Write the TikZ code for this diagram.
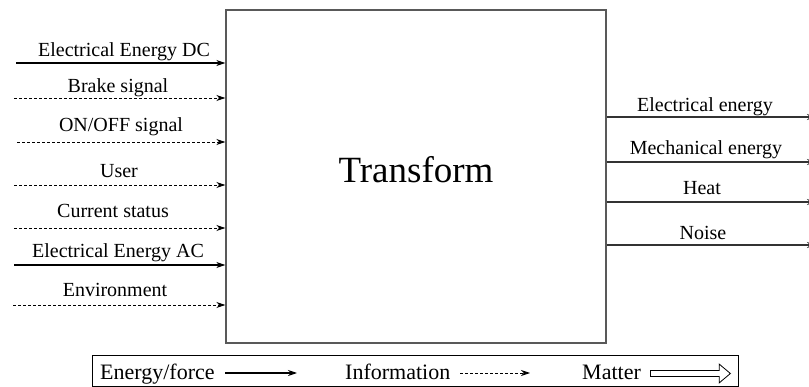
\documentclass[tikz,border=0pt]{standalone}
\usepackage{fontspec}
\setmainfont{Liberation Serif}
\usetikzlibrary{arrows.meta,shapes.arrows}
\tikzset{
  lbl/.style={inner sep=0pt, anchor=base, font=\fontsize{20}{22}\selectfont},
  lgd/.style={inner sep=0pt, anchor=base west, font=\fontsize{22}{24}\selectfont},
  energy/.style={line width=1.1pt, -{Stealth[length=9pt,width=6pt]}},
  info/.style={line width=0.9pt, dash pattern=on 3pt off 2pt, -{Stealth[length=9pt,width=6pt]}},
  outflow/.style={line width=1.2pt, draw=black!80, -{Stealth[length=9pt,width=6pt]}},
}
\begin{document}
\begin{tikzpicture}[x=1pt,y=-1pt]
\useasboundingbox (0,0) rectangle (809,387);
% main box
\node[draw=black!65, line width=1.4pt, minimum width=380pt, minimum height=333pt, inner sep=0pt] (T) at (416,176.5) {};
\node[inner sep=0pt, anchor=base, font=\fontsize{37}{40}\selectfont] (Tt) at (416,183) {Transform};
% inputs
\coordinate (i1) at (16,63);
\coordinate (i2) at (14,98);
\coordinate (i3) at (17,142);
\coordinate (i4) at (14,185);
\coordinate (i5) at (14,228);
\coordinate (i6) at (14,265);
\coordinate (i7) at (13,305);
\draw[energy] (i1) -- (i1 -| T.west);
\draw[info] (i2) -- (i2 -| T.west);
\draw[info] (i3) -- (i3 -| T.west);
\draw[info] (i4) -- (i4 -| T.west);
\draw[info] (i5) -- (i5 -| T.west);
\draw[energy] (i6) -- (i6 -| T.west);
\draw[info] (i7) -- (i7 -| T.west);
\node[lbl] (l1) at (124,56.5) {Electrical Energy DC};
\node[lbl] (l2) at (118,93) {Brake signal};
\node[lbl] (l3) at (121,132) {ON/OFF signal};
\node[lbl] (l4) at (119,178) {User};
\node[lbl] (l5) at (113,218) {Current status};
\node[lbl] (l6) at (118,258) {Electrical Energy AC};
\node[lbl] (l7) at (115,297) {Environment};
% outputs
\coordinate (o1) at (816,117);
\coordinate (o2) at (816,162);
\coordinate (o3) at (816,202);
\coordinate (o4) at (816,245);
\draw[outflow] (o1 -| T.east) -- (o1);
\draw[outflow] (o2 -| T.east) -- (o2);
\draw[outflow] (o3 -| T.east) -- (o3);
\draw[outflow] (o4 -| T.east) -- (o4);
\node[lbl] (r1) at (705,112) {Electrical energy};
\node[lbl] (r2) at (706,155) {Mechanical energy};
\node[lbl] (r3) at (702,195) {Heat};
\node[lbl] (r4) at (703,240) {Noise};
% legend
\node[draw=black, line width=1pt, minimum width=646pt, minimum height=31pt, inner sep=0pt] (L) at (415,371.5) {};
\node[lgd] (e1) at (100,380) {Energy/force};
\coordinate (a1s) at (225,373);
\coordinate (a1e) at (297,373);
\draw[energy] (a1s) -- (a1e);
\node[lgd] (e2) at (345,380) {Information};
\coordinate (a2s) at (460,373);
\coordinate (a2e) at (530,373);
\draw[info] (a2s) -- (a2e);
\node[lgd] (e3) at (582,380) {Matter};
\node[single arrow, draw=black, line width=0.8pt, minimum height=80pt, minimum width=18pt,
      single arrow head extend=6.5pt, single arrow tip angle=80, inner sep=0pt, anchor=west] (a3) at (650,373.5) {\rule{0pt}{5pt}};
\end{tikzpicture}
\end{document}
